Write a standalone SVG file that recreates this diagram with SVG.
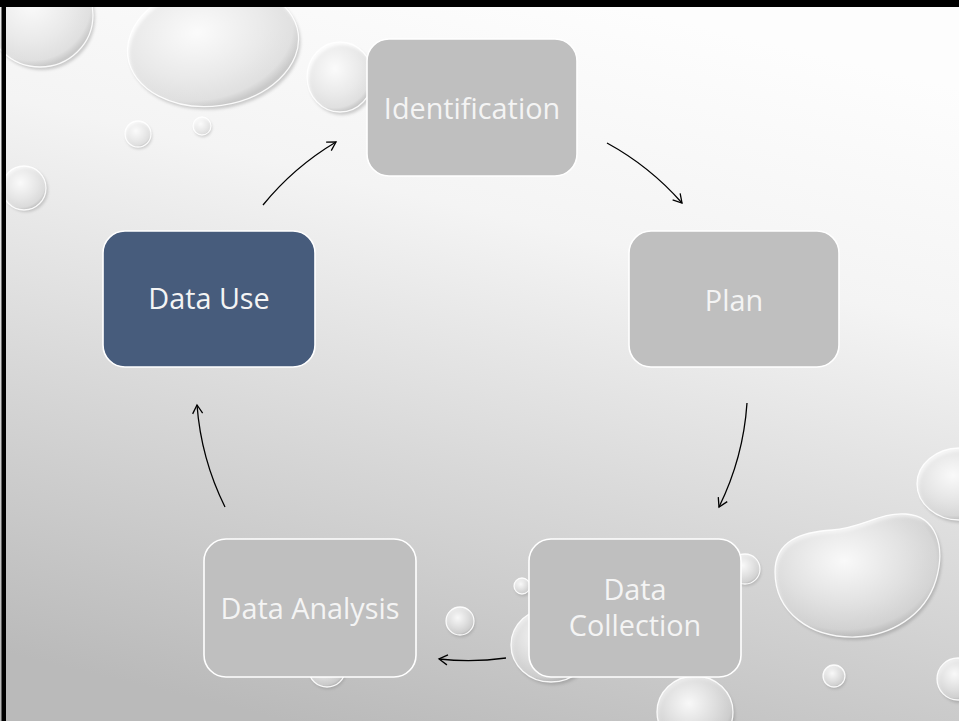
<svg xmlns="http://www.w3.org/2000/svg" width="959" height="721" viewBox="0 0 959 721">
  <defs>
    <linearGradient id="bg" x1="0.62" y1="0" x2="0.3" y2="1">
      <stop offset="0" stop-color="#fdfdfd"/>
      <stop offset="0.3" stop-color="#f4f4f4"/>
      <stop offset="0.62" stop-color="#d9d9d9"/>
      <stop offset="1" stop-color="#bababa"/>
    </linearGradient>
    <radialGradient id="drop" cx="0.42" cy="0.38" r="0.62">
      <stop offset="0" stop-color="#ffffff" stop-opacity="0.92"/>
      <stop offset="0.6" stop-color="#ffffff" stop-opacity="0.6"/>
      <stop offset="0.9" stop-color="#fafafa" stop-opacity="0.45"/>
      <stop offset="1" stop-color="#c8c8c8" stop-opacity="0.45"/>
    </radialGradient>
    <filter id="soft" x="-20%" y="-20%" width="140%" height="140%">
      <feGaussianBlur stdDeviation="1.6"/>
    </filter>
    <marker id="arrow" markerUnits="userSpaceOnUse" markerWidth="14" markerHeight="14" viewBox="-10 -7 12 14" refX="0" refY="0" orient="auto">
      <path d="M-8.5,-5 L0,0 L-8.5,5" fill="none" stroke="#000" stroke-width="1.3" stroke-linejoin="miter"/>
    </marker>
    <style>
      .shadow { fill: #666666; opacity: 0.3; filter: url(#soft); }
      .drop { fill: url(#drop); stroke: #ffffff; stroke-opacity: 0.9; stroke-width: 1.3; }
      .node { fill: #bfbfbf; stroke: #ffffff; stroke-width: 1.6; }
      .node.active { fill: #475c7c; }
      .label { font-family: "Open Sans", "Noto Sans", "DejaVu Sans", sans-serif; font-size: 28.8px; fill: #f4f4f4; text-anchor: middle; }
      .conn { fill: none; stroke: #000000; stroke-width: 1.3; marker-end: url(#arrow); }
    </style>
  </defs>

  <!-- backdrop -->
  <rect x="0" y="0" width="959" height="721" fill="url(#bg)"/>

  <!-- water droplets -->
  <g id="droplets">
    <ellipse class="shadow" cx="42" cy="18" rx="53" ry="52"/>
    <ellipse class="drop" cx="40" cy="15" rx="53" ry="52"/>

    <ellipse class="shadow" cx="215" cy="48" rx="86" ry="61" transform="rotate(-8 215 48)"/>
    <ellipse class="drop" cx="213" cy="45" rx="86" ry="61" transform="rotate(-8 213 45)"/>

    <ellipse class="shadow" cx="342" cy="80" rx="33" ry="35"/>
    <ellipse class="drop" cx="340" cy="77" rx="33" ry="35"/>

    <circle class="shadow" cx="139" cy="136" r="13"/>
    <circle class="drop" cx="138" cy="134" r="13"/>

    <circle class="shadow" cx="203" cy="128" r="9"/>
    <circle class="drop" cx="202" cy="126" r="9"/>

    <circle class="shadow" cx="26" cy="190" r="22"/>
    <circle class="drop" cx="24" cy="188" r="22"/>

    <ellipse class="shadow" cx="962" cy="487" rx="43" ry="36"/>
    <ellipse class="drop" cx="960" cy="484" rx="43" ry="36"/>

    <path class="shadow" transform="translate(2 3)" d="M775,572 C775,540 802,532 832,530 C862,528 880,512 906,514 C936,516 946,546 936,580 C925,616 890,636 855,637 C810,638 775,612 775,572 Z"/>
    <path class="drop" d="M775,572 C775,540 802,532 832,530 C862,528 880,512 906,514 C936,516 946,546 936,580 C925,616 890,636 855,637 C810,638 775,612 775,572 Z"/>

    <circle class="shadow" cx="835" cy="678" r="11"/>
    <circle class="drop" cx="834" cy="676" r="11"/>

    <circle class="shadow" cx="960" cy="682" r="21"/>
    <circle class="drop" cx="958" cy="679" r="21"/>

    <circle class="shadow" cx="746" cy="571" r="15"/>
    <circle class="drop" cx="745" cy="569" r="15"/>

    <circle class="shadow" cx="523" cy="588" r="8"/>
    <circle class="drop" cx="522" cy="586" r="8"/>

    <ellipse class="shadow" cx="553" cy="648" rx="40" ry="37"/>
    <ellipse class="drop" cx="551" cy="645" rx="40" ry="37"/>

    <circle class="shadow" cx="461" cy="623" r="14"/>
    <circle class="drop" cx="460" cy="621" r="14"/>

    <ellipse class="shadow" cx="328" cy="672" rx="18" ry="17"/>
    <ellipse class="drop" cx="327" cy="670" rx="18" ry="17"/>

    <ellipse class="shadow" cx="697" cy="715" rx="38" ry="36"/>
    <ellipse class="drop" cx="695" cy="712" rx="38" ry="36"/>
  </g>

  <!-- frame edges -->
  <rect x="0" y="0" width="959" height="7" fill="#000"/>
  <rect x="1.5" y="0" width="4.5" height="721" fill="#000"/>

  <!-- connectors: arcs on one circle around (472,384) -->
  <g id="connectors">
    <path class="conn" d="M263,205 A276.7,276.7 0 0 1 336,142"/>
    <path class="conn" d="M607,143 A276.7,276.7 0 0 1 682,203"/>
    <path class="conn" d="M747,403 A276.7,276.7 0 0 1 719,507"/>
    <path class="conn" d="M506,658 A276.7,276.7 0 0 1 439,659"/>
    <path class="conn" d="M225,507 A276.7,276.7 0 0 1 197,405"/>
  </g>

  <!-- steps of the cycle -->
  <g id="identification">
    <rect class="node" x="367" y="39" width="210" height="137" rx="22"/>
    <text class="label" x="472" y="119">Identification</text>
  </g>
  <g id="plan">
    <rect class="node" x="629" y="231" width="210" height="136" rx="22"/>
    <text class="label" x="734" y="311">Plan</text>
  </g>
  <g id="data-collection">
    <rect class="node" x="529" y="539" width="212" height="138" rx="22"/>
    <text class="label" x="635" y="600">Data</text>
    <text class="label" x="635" y="636">Collection</text>
  </g>
  <g id="data-analysis">
    <rect class="node" x="204" y="539" width="212" height="138" rx="22"/>
    <text class="label" x="310" y="619">Data Analysis</text>
  </g>
  <g id="data-use">
    <rect class="node active" x="103" y="231" width="212" height="136" rx="22"/>
    <text class="label" x="209" y="309">Data Use</text>
  </g>
</svg>
